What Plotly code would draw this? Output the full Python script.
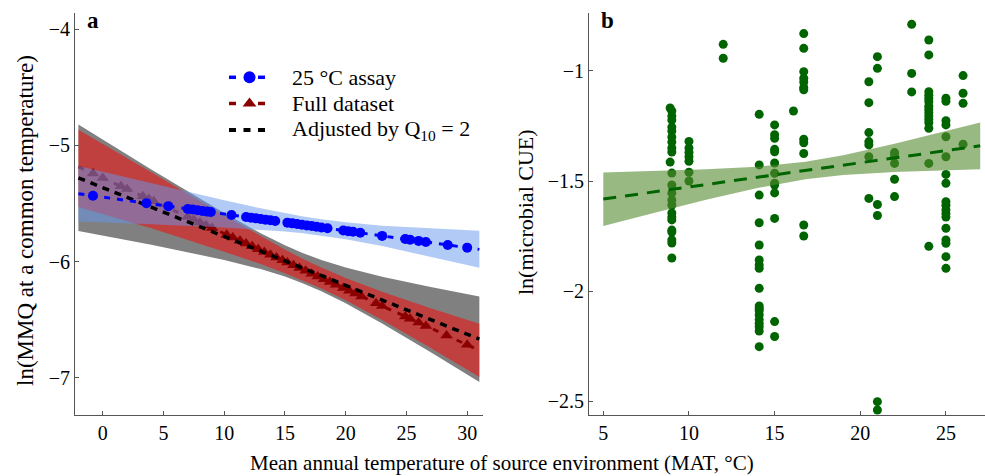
import plotly.graph_objects as go

FONT = "Liberation Serif"
W, H = 985, 476

# ---------------- Panel a data ----------------
fit_x = [-2, 31]
assay_fit_y = [-5.416, -5.895]
full_fit_y = [-5.184, -6.765]
q10_fit_y = [-5.279, -6.668]

band_x = [-2, 4, 10, 13, 15, 16.5, 18, 20, 23, 27, 31]
q10_upper = [-4.821, -5.208, -5.582, -5.756, -5.860, -5.928, -5.986, -6.051, -6.130, -6.219, -6.301]
q10_lower = [-5.736, -5.855, -5.986, -6.065, -6.129, -6.188, -6.256, -6.359, -6.533, -6.781, -7.036]
full_upper = [-4.865, -5.230, -5.603, -5.783, -5.897, -5.978, -6.052, -6.142, -6.260, -6.401, -6.536]
full_lower = [-5.530, -5.713, -5.915, -6.022, -6.100, -6.163, -6.232, -6.334, -6.504, -6.745, -6.994]
assay_upper = [-5.177, -5.327, -5.473, -5.542, -5.583, -5.611, -5.636, -5.662, -5.691, -5.716, -5.735]
assay_lower = [-5.655, -5.679, -5.707, -5.726, -5.742, -5.757, -5.776, -5.808, -5.866, -5.957, -6.054]

assay_mat = [-0.8, 3.6, 5.4, 7.0, 7.4, 7.8, 8.2, 8.6, 8.9, 10.6, 11.8, 12.2, 12.6, 13.0,
             13.4, 13.8, 14.2, 15.2, 15.6, 16.0, 16.4, 16.8, 17.2, 17.6, 18.0, 18.5,
             19.8, 20.2, 20.6, 21.2, 23.0, 24.9, 25.3, 26.0, 26.6, 28.4, 30.0]
assay_pred = [-5.433, -5.497, -5.523, -5.547, -5.552, -5.558, -5.564, -5.570, -5.574, -5.599,
              -5.616, -5.622, -5.628, -5.634, -5.639, -5.645, -5.651, -5.665, -5.671, -5.677,
              -5.683, -5.689, -5.694, -5.700, -5.706, -5.713, -5.732, -5.738, -5.744, -5.752,
              -5.779, -5.806, -5.812, -5.822, -5.831, -5.857, -5.880]

full_mat = [-0.8, 0.0, 1.5, 2.0, 3.3, 3.8, 4.2, 7.0, 7.5, 8.0, 8.5, 9.0, 10.2, 10.7, 11.3,
            11.8, 12.3, 12.8, 13.3, 13.8, 14.3, 14.8, 15.2, 15.7, 16.2, 16.7, 17.2, 17.7,
            18.2, 18.7, 19.2, 19.8, 20.3, 20.8, 21.3, 22.5, 23.0, 24.9, 25.3, 26.0, 26.6,
            28.3, 30.0]
full_pred = [-5.242, -5.280, -5.352, -5.376, -5.438, -5.462, -5.481, -5.615, -5.639, -5.663,
             -5.687, -5.711, -5.769, -5.793, -5.821, -5.845, -5.869, -5.893, -5.917, -5.941,
             -5.965, -5.989, -6.008, -6.032, -6.056, -6.080, -6.104, -6.128, -6.152, -6.176,
             -6.200, -6.228, -6.252, -6.276, -6.300, -6.358, -6.382, -6.473, -6.492, -6.525,
             -6.554, -6.636, -6.717]

# ---------------- Panel b data ----------------
cue_mat = ([8.9] + [9.0] * 9 + [8.9] + [9.0] * 13 +
           [10.0] * 7 + [12.0] * 2 + [14.1] * 18 + [15.0] * 13 + [16.1] +
           [16.7] * 12 + [20.5] * 7 + [21.0] * 6 + [22.0] * 5 + [23.0] * 3 +
           [24.0] * 15 + [25.0] * 18 + [26.0] * 4)
cue_ln = [-1.168, -1.182, -1.205, -1.223, -1.255, -1.273, -1.300, -1.323, -1.350, -1.368,
          -1.414, -1.464, -1.518, -1.555, -1.586, -1.609, -1.645, -1.664, -1.677, -1.723,
          -1.732, -1.768, -1.782, -1.850,
          -1.32, -1.35, -1.37, -1.39, -1.41, -1.46, -1.50,
          -0.879, -0.942,
          -1.197, -1.427, -1.564, -1.690, -1.791, -1.859, -1.882, -1.897, -1.988, -2.068,
          -2.079, -2.090, -2.109, -2.130, -2.147, -2.162, -2.182, -2.253,
          -1.245, -1.290, -1.306, -1.356, -1.367, -1.418, -1.465, -1.510, -1.518, -1.554,
          -1.670, -2.139, -2.207,
          -1.182,
          -0.830, -0.897, -1.003, -1.033, -1.050, -1.075, -1.085, -1.310, -1.326, -1.375,
          -1.700, -1.750,
          -1.049, -1.144, -1.280, -1.321, -1.336, -1.390, -1.579,
          -0.935, -0.988, -1.607, -1.657, -2.503, -2.541,
          -1.371, -1.385, -1.420, -1.492, -1.571,
          -0.788, -1.011, -1.095,
          -0.859, -0.927, -1.094, -1.110, -1.125, -1.140, -1.160, -1.175, -1.190, -1.205,
          -1.220, -1.235, -1.260, -1.420, -1.797,
          -1.124, -1.138, -1.226, -1.245, -1.299, -1.390, -1.470, -1.510, -1.594, -1.610,
          -1.632, -1.648, -1.664, -1.715, -1.768, -1.783, -1.844, -1.897,
          -1.021, -1.101, -1.147, -1.333]

cue_fit_x = [5, 27]
cue_fit_y = [-1.582, -1.340]
cue_band_x = [5, 8, 11, 14, 16.8, 19, 22, 25, 27]
cue_upper = [-1.461, -1.455, -1.447, -1.435, -1.412, -1.383, -1.331, -1.273, -1.234]
cue_lower = [-1.704, -1.644, -1.585, -1.532, -1.492, -1.473, -1.459, -1.451, -1.447]

legend_labels = ["25 °C assay", "Full dataset", "Adjusted by Q<sub>10</sub> = 2"]

# colours
GRAY_BAND = "rgb(128,128,128)"
RED_BAND = "rgba(255,0,0,0.5)"
BLUE_BAND = "rgba(100,149,237,0.5)"
GREEN_BAND = "rgba(85,139,47,0.6)"
BLUE = "rgb(0,0,255)"
DARKRED = "rgb(139,0,0)"
DKGREEN = "rgb(0,100,0)"


def band(x, up, lo, color, xa, ya):
    return go.Scatter(x=list(x) + list(x)[::-1], y=list(up) + list(lo)[::-1],
                      fill="toself", fillcolor=color, line=dict(width=0),
                      mode="lines", hoverinfo="skip", showlegend=False,
                      xaxis=xa, yaxis=ya)


fig = go.Figure()

# Panel a
fig.add_trace(band(band_x, q10_upper, q10_lower, GRAY_BAND, "x", "y"))
fig.add_trace(band(band_x, full_upper, full_lower, RED_BAND, "x", "y"))
fig.add_trace(go.Scatter(x=fit_x, y=full_fit_y, mode="lines",
                         line=dict(color=DARKRED, width=3, dash="6px,7px"),
                         showlegend=False, xaxis="x", yaxis="y"))
fig.add_trace(go.Scatter(x=full_mat, y=full_pred, mode="markers",
                         marker=dict(symbol="triangle-up", size=11, color=DARKRED),
                         showlegend=False, xaxis="x", yaxis="y"))
fig.add_trace(band(band_x, assay_upper, assay_lower, BLUE_BAND, "x", "y"))
fig.add_trace(go.Scatter(x=fit_x, y=q10_fit_y, mode="lines",
                         line=dict(color="black", width=3.5, dash="7px,6px"),
                         showlegend=False, xaxis="x", yaxis="y"))
fig.add_trace(go.Scatter(x=fit_x, y=assay_fit_y, mode="lines",
                         line=dict(color=BLUE, width=3, dash="6px,7px"),
                         showlegend=False, xaxis="x", yaxis="y"))
fig.add_trace(go.Scatter(x=assay_mat, y=assay_pred, mode="markers",
                         marker=dict(symbol="circle", size=10, color=BLUE),
                         showlegend=False, xaxis="x", yaxis="y"))

# Panel b
fig.add_trace(go.Scatter(x=cue_mat, y=cue_ln, mode="markers",
                         marker=dict(symbol="circle", size=9, color=DKGREEN),
                         showlegend=False, xaxis="x2", yaxis="y2"))
fig.add_trace(band(cue_band_x, cue_upper, cue_lower, GREEN_BAND, "x2", "y2"))
fig.add_trace(go.Scatter(x=cue_fit_x, y=cue_fit_y, mode="lines",
                         line=dict(color=DKGREEN, width=3, dash="13px,9px"),
                         showlegend=False, xaxis="x2", yaxis="y2"))

# Custom legend (pixel-space overlay axes)
leg_rows = [77.3, 103.5, 130.0]
for yy, col, sym in [(leg_rows[0], BLUE, "circle"), (leg_rows[1], DARKRED, "triangle-up")]:
    fig.add_trace(go.Scatter(x=[229, 236, None, 258, 265], y=[yy, yy, None, yy, yy],
                             mode="lines", line=dict(color=col, width=3.5),
                             showlegend=False, hoverinfo="skip", xaxis="x3", yaxis="y3"))
    fig.add_trace(go.Scatter(x=[249.5], y=[yy], mode="markers",
                             marker=dict(symbol=sym, size=12, color=col),
                             showlegend=False, hoverinfo="skip", xaxis="x3", yaxis="y3"))
fig.add_trace(go.Scatter(x=[229, 236, None, 243.5, 250.5, None, 258, 265],
                         y=[leg_rows[2]] * 2 + [None] + [leg_rows[2]] * 2 + [None] + [leg_rows[2]] * 2,
                         mode="lines", line=dict(color="black", width=4),
                         showlegend=False, hoverinfo="skip", xaxis="x3", yaxis="y3"))

axis_common = dict(showline=True, linecolor="#555555", linewidth=1, ticks="inside",
                   ticklen=4, tickcolor="#555555", showgrid=False, zeroline=False,
                   tickfont=dict(family=FONT, size=20, color="black"))

ydom = [1 - 415 / H, 1 - 13 / H]
fig.update_layout(
    width=W, height=H, margin=dict(l=0, r=0, t=0, b=0, pad=0),
    paper_bgcolor="white", plot_bgcolor="rgba(0,0,0,0)",
    showlegend=False,
    font=dict(family=FONT, color="black", size=20),
    xaxis=dict(domain=[75 / W, 483 / W], range=[-2.28, 31.30], anchor="y",
               tickvals=[0, 5, 10, 15, 20, 25, 30], **axis_common),
    yaxis=dict(domain=ydom, range=[-7.321, -3.860], anchor="x",
               tickvals=[-4, -5, -6, -7], **axis_common),
    xaxis2=dict(domain=[589 / W, 1.0], range=[4.165, 27.28], anchor="y2",
                tickvals=[5, 10, 15, 20, 25], **axis_common),
    yaxis2=dict(domain=ydom, range=[-2.5636, -0.7364], anchor="x2",
                tickvals=[-1, -1.5, -2, -2.5], ticktext=["−1", "−1.5", "−2", "−2.5"],
                **axis_common),
    xaxis3=dict(domain=[0, 1], range=[0, W], anchor="y3", visible=False, fixedrange=True),
    yaxis3=dict(domain=[0, 1], range=[H, 0], anchor="x3", visible=False, fixedrange=True),
)

ann = []
def px(x, y, text, size, **kw):
    ann.append(dict(x=x / W, y=1 - y / H, xref="paper", yref="paper", text=text,
                    showarrow=False, font=dict(family=FONT, size=size, color="black"), **kw))

px(93, 21, "<b>a</b>", 23, xanchor="center", yanchor="middle")
px(607, 21, "<b>b</b>", 23, xanchor="center", yanchor="middle")
for yy, lab in zip(leg_rows, legend_labels):
    px(290, yy, lab, 22, xanchor="left", yanchor="middle")
px(248, 463, "Mean annual temperature of source environment (MAT, °C)", 21,
   xanchor="left", yanchor="middle")
px(25, 221, "ln(MMQ at a common temperature)", 23, textangle=-90,
   xanchor="center", yanchor="middle")
px(525, 212, "ln(microbial CUE)", 22, textangle=-90, xanchor="center", yanchor="middle")
fig.update_layout(annotations=ann)

fig.write_html("out.html", config={"displayModeBar": False},
               post_script="document.body.style.margin='0px';document.body.style.padding='0px';")
